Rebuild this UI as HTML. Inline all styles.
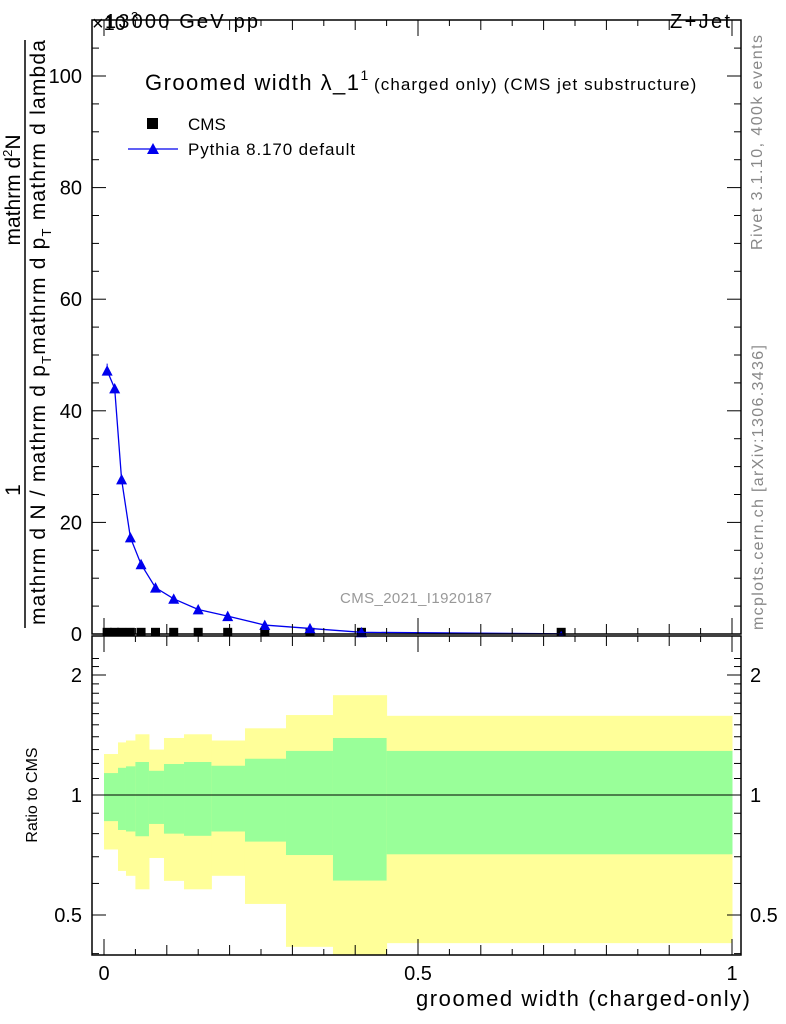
<!DOCTYPE html>
<html><head><meta charset="utf-8"><style>
body{margin:0;background:#fff;}
svg{display:block;font-family:"Liberation Sans",sans-serif;}
</style></head><body>
<svg id="c" width="786" height="1024" xmlns="http://www.w3.org/2000/svg">
<g id="ratio-layer"></g>
<g id="main-layer"></g>
<g id="axes-layer"></g>
<text x="92" y="30" font-size="20">×10</text>
<text x="131" y="21" font-size="13">3</text>
<text x="105" y="28" font-size="20" textLength="153">13000 GeV pp</text>
<text x="730" y="28" font-size="20" text-anchor="end" textLength="60">Z+Jet</text>
<text x="145" y="90" font-size="22"><tspan textLength="214">Groomed width λ_1</tspan><tspan font-size="14" dy="-10">1</tspan><tspan font-size="17" dy="10" textLength="328"> (charged only) (CMS jet substructure)</tspan></text>
<rect x="147" y="118" width="11" height="11" fill="#000"/>
<text x="188" y="130" font-size="17">CMS</text>
<line x1="128" y1="149" x2="178" y2="149" stroke="#0000ee" stroke-width="1.3"/>
<polygon points="153,143 147,154 159,154" fill="#0000ee"/>
<text x="188" y="155" font-size="17" textLength="167">Pythia 8.170 default</text>
<text x="416" y="603" font-size="15" fill="#999" text-anchor="middle" textLength="152">CMS_2021_I1920187</text>
<text transform="translate(762,250) rotate(-90)" font-size="16" fill="#888" textLength="215">Rivet 3.1.10,  400k events</text>
<text transform="translate(763,630) rotate(-90)" font-size="16" fill="#888" textLength="285">mcplots.cern.ch [arXiv:1306.3436]</text>
<g font-size="21">
<text transform="translate(20,490) rotate(-90)" text-anchor="middle">1</text>
<text transform="translate(20,190) rotate(-90)" text-anchor="middle">mathrm d<tspan font-size="13" dy="-8">2</tspan><tspan dy="8">N</tspan></text>
<line x1="25" y1="628" x2="25" y2="40" stroke="#000" stroke-width="1.5"/>
<text transform="translate(45,625) rotate(-90)" textLength="585">mathrm d N / mathrm d p<tspan font-size="13" dy="6">T</tspan><tspan dy="-6">mathrm d p</tspan><tspan font-size="13" dy="6">T</tspan><tspan dy="-6"> mathrm d lambda</tspan></text>
</g>
<text transform="translate(37,795) rotate(-90)" font-size="16" text-anchor="middle">Ratio to CMS</text>
<text x="750" y="1006" font-size="22" text-anchor="end" textLength="334">groomed width (charged-only)</text>
</svg>
<script>
const NS="http://www.w3.org/2000/svg";
const binEdges=[0,0.0223,0.035,0.05,0.0716,0.0955,0.1274,0.171,0.2245,0.2898,0.3646,0.45,1.0];
const yellowHi=[1.267,1.355,1.37,1.42,1.30,1.39,1.42,1.37,1.47,1.587,1.78,1.58];
const greenHi=[1.135,1.17,1.18,1.21,1.15,1.196,1.21,1.184,1.233,1.29,1.39,1.29];
const greenLo=[0.86,0.817,0.81,0.788,0.846,0.80,0.79,0.81,0.764,0.707,0.61,0.71];
const yellowLo=[0.73,0.645,0.627,0.58,0.695,0.609,0.58,0.627,0.533,0.416,0.36,0.425];
const pyX=[0.005,0.017,0.028,0.042,0.059,0.082,0.111,0.150,0.197,0.256,0.328,0.410,0.728];
const pyY=[47.2,44.0,27.7,17.3,12.5,8.3,6.3,4.4,3.2,1.6,1.0,0.3,0.05];
const cmsX=[0.005,0.017,0.028,0.042,0.059,0.082,0.111,0.150,0.197,0.256,0.328,0.410,0.728];
const cmsY=[0.3,0.3,0.3,0.3,0.3,0.3,0.3,0.3,0.3,0.3,0.3,0.3,0.3];
const yTicks=[0,20,40,60,80,100];
const rTicks=[0.5,1,2];
const xTicks=[0,0.5,1];
const xTickLabels=["0","0.5","1"];
const L=92,R=741,T=20,B=634,RT=636,RB=955;
const sx=v=>104+v*628;
const sy=v=>634-v*5.58;
const sr=v=>795-120*Math.log2(v);
function mk(tag,attrs,parent){const e=document.createElementNS(NS,tag);for(const k in attrs)e.setAttribute(k,attrs[k]);parent.appendChild(e);return e;}
const rl=document.getElementById('ratio-layer'),ml=document.getElementById('main-layer'),al=document.getElementById('axes-layer');
const clip=mk('clipPath',{id:'rc'},rl);mk('rect',{x:L,y:RT,width:R-L,height:RB-RT},clip);
const rg=mk('g',{'clip-path':'url(#rc)'},rl);
for(let i=0;i<yellowHi.length;i++){
 const x0=sx(binEdges[i]),x1=sx(binEdges[i+1]);
 const y=mk('rect',{x:x0,y:sr(yellowHi[i]),width:x1-x0+0.5,height:sr(yellowLo[i])-sr(yellowHi[i]),fill:'#ffff99'},rg);
 
 
 const g=mk('rect',{x:x0,y:sr(greenHi[i]),width:x1-x0+0.5,height:sr(greenLo[i])-sr(greenHi[i]),fill:'#99ff99'},rg);
 
 
}
const rline=mk('line',{x1:L,x2:R,y1:sr(1),y2:sr(1),stroke:'#000','stroke-width':1},rl);


for(let i=0;i<cmsX.length;i++){
 const r=mk('rect',{x:sx(cmsX[i])-4.5,y:sy(cmsY[i])-4.5,width:9,height:8,fill:'#000'},ml);
 
 
}
const pl=mk('polyline',{points:pyX.map((x,i)=>sx(x)+','+sy(pyY[i])).join(' '),fill:'none',stroke:'#0000ee','stroke-width':1.3},ml);


for(let i=0;i<pyX.length;i++){
 const x=sx(pyX[i]),y=sy(pyY[i]);
 const s=i<pyX.length-1?5.5:3;
 const p=mk('polygon',{points:`${x},${y-s} ${x-s},${y+s*0.9} ${x+s},${y+s*0.9}`,fill:'#0000ee'},ml);
 
 
}
mk('line',{x1:sx(pyX[0]),x2:sx(pyX[0]),y1:sy(pyY[0])-7,y2:sy(pyY[0])+3,stroke:'#0000ee'},ml);
const f1=mk('rect',{x:L,y:T,width:R-L,height:B-T,fill:'none',stroke:'#000','stroke-width':1.5},al);


const f2=mk('rect',{x:L,y:RT,width:R-L,height:RB-RT,fill:'none',stroke:'#000','stroke-width':1.5},al);


for(let v=0;v<=105;v+=5){const y=sy(v),len=v%20===0?14:7;
 mk('line',{x1:L,x2:L+len,y1:y,y2:y,stroke:'#000'},al);mk('line',{x1:R,x2:R-len,y1:y,y2:y,stroke:'#000'},al);}
yTicks.forEach(v=>{const t=mk('text',{x:82,y:sy(v)+7,'font-size':20,'text-anchor':'end'},al);t.textContent=v;
 
 });
for(let v=0.4;v<=2.25;v+=0.1){const y=sr(v);if(y<RT||y>RB)continue;
 const major=rTicks.some(t=>Math.abs(t-v)<1e-6),len=major?14:7;
 mk('line',{x1:L,x2:L+len,y1:y,y2:y,stroke:'#000'},al);mk('line',{x1:R,x2:R-len,y1:y,y2:y,stroke:'#000'},al);}
rTicks.forEach(v=>{const a=mk('text',{x:82,y:sr(v)+7,'font-size':20,'text-anchor':'end'},al);a.textContent=v;
 
 
 const b=mk('text',{x:750,y:sr(v)+7,'font-size':20},al);b.textContent=v;
 
 });
for(let k=0;k<=21;k++){const v=k*0.05;const x=sx(v);if(x>R)continue;
 const len=k%10===0?16:(k%2===0?10:6);
 [[B,-1],[T,1],[RB,-1],[RT,1]].forEach(([y0,d])=>mk('line',{x1:x,x2:x,y1:y0,y2:y0+d*len,stroke:'#000'},al));}
xTicks.forEach((v,i)=>{const t=mk('text',{x:sx(v),y:980,'font-size':20,'text-anchor':'middle'},al);t.textContent=xTickLabels[i];
 
 });
</script>
</body></html>
